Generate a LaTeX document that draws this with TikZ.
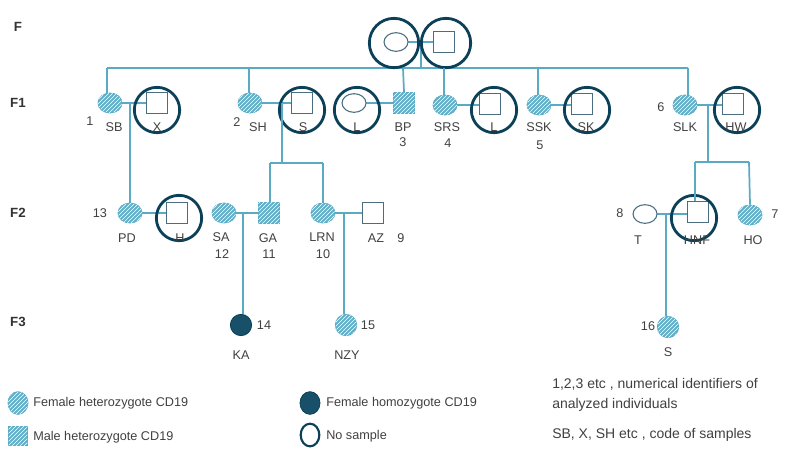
\documentclass[tikz,border=0pt]{standalone}
\usepackage{fontspec}
\setmainfont{Liberation Sans}
\usetikzlibrary{patterns,shapes.geometric}
\definecolor{ln}{HTML}{5AAAC4}
\definecolor{dk}{HTML}{0B4058}
\definecolor{hf}{HTML}{5FAFC8}
\definecolor{sq}{HTML}{4A6E80}
\begin{document}
\begin{tikzpicture}[x=0.75pt,y=-0.75pt,font=\fontsize{9.5}{11}\selectfont,
 lnk/.style={ln,line width=1.3pt},
 ring/.style={circle,draw=dk,line width=2.1pt,minimum size=34pt,inner sep=0pt},
 hetf/.style={ellipse,draw=ln,line width=0.6pt,fill=hf,postaction={pattern=north east lines,pattern color=white},minimum width=18pt,minimum height=15pt,inner sep=0pt},
 hetm/.style={rectangle,draw=ln,line width=0.6pt,fill=hf,postaction={pattern=north east lines,pattern color=white},minimum size=16pt,inner sep=0pt},
 homf/.style={ellipse,draw=dk,line width=0.6pt,fill=dk!85!ln,minimum width=16pt,minimum height=16pt,inner sep=0pt},
 openf/.style={ellipse,draw=sq,line width=0.8pt,fill=white,minimum width=18pt,minimum height=14pt,inner sep=0pt},
 openm/.style={rectangle,draw=sq,line width=0.8pt,fill=white,minimum size=16pt,inner sep=0pt},
 lab/.style={inner sep=0pt,text=black!75},
 leg/.style={lab,anchor=west,font=\fontsize{9.5}{11}\selectfont},
 legr/.style={lab,anchor=west,font=\fontsize{10.5}{12}\selectfont},
 gen/.style={inner sep=0pt,font=\fontsize{10}{11}\selectfont\bfseries,text=black!80}]
\useasboundingbox (0,0) rectangle (809,458);
% generation labels
\node[gen] (gF) at (18,27) {F};
\node[gen] (gF1) at (18,103) {F1};
\node[gen] (gF2) at (18,213) {F2};
\node[gen] (gF3) at (18,322) {F3};
% coordinates for lines
\coordinate (top) at (421,42);
\coordinate (sibL) at (107,68);
\coordinate (sibR) at (688,68);
\coordinate (sibM) at (421,68);
% F
\draw[lnk] (396,42) -- (444,42);
\draw[lnk] (top) -- (sibM);
\draw[lnk] (sibL) -- (sibR);
\node[openf] (Fm) at (396,42) {};
\node[openm] (Fp) at (444,42) {};
\node[ring,minimum size=37pt] (rFm) at (394,43) {};
\node[ring,minimum size=37pt] (rFp) at (446,43) {};
% F1 sibship drops
\coordinate (d1) at (107,68); \coordinate (d2) at (249,68); \coordinate (d3) at (403,68);
\coordinate (d4) at (444,68); \coordinate (d5) at (538,68); \coordinate (d6) at (688,68);
% marriages F1
\draw[lnk] (110,103) -- (157,103);
\draw[lnk] (250,103) -- (302,103);
\draw[lnk] (354,103) -- (404,103);
\draw[lnk] (445,105) -- (490,105);
\draw[lnk] (539,105) -- (582,105);
\draw[lnk] (685,105) -- (733,105);
% F1 nodes
\node[hetf] (SB) at (110,103) {};
\node[openm] (X) at (157,103) {};
\node[ring] (rX) at (157,110) {};
\node[hetf] (SH) at (250,103) {};
\node[openm] (S1) at (302,103) {};
\node[ring] (rS1) at (302,110) {};
\node[openf] (L1) at (354,103) {};
\node[ring] (rL1) at (357,110) {};
\node[hetm] (BP) at (404,103) {};
\node[hetf] (SRS) at (445,105) {};
\node[openm] (L2) at (490,104) {};
\node[ring] (rL2) at (494,110) {};
\node[hetf] (SSK) at (539,105) {};
\node[openm] (SK) at (582,104) {};
\node[ring] (rSK) at (587,110) {};
\node[hetf] (SLK) at (685,105) {};
\node[openm] (HW) at (733,104) {};
\node[ring] (rHW) at (737,110) {};
\draw[lnk] (d1) -- (SB.north -| d1);
\draw[lnk] (d2) -- (SH.north -| d2);
\draw[lnk] (d3) -- (BP.north);
\draw[lnk] (d4) -- (SRS.north -| d4);
\draw[lnk] (d5) -- (SSK.north -| d5);
\draw[lnk] (d6) -- (SLK.north -| d6);
% F1 labels
\node[lab] (n1) at (90,121) {1}; \node[lab] (tSB) at (114,127) {SB}; \node[lab] (tX) at (157,127) {X};
\node[lab] (n2) at (237,122) {2}; \node[lab] (tSH) at (258,127) {SH}; \node[lab] (tS) at (303,127) {S};
\node[lab] (tL) at (357,127) {L}; \node[lab] (tBP) at (403,127) {BP}; \node[lab] (n3) at (403,142) {3};
\node[lab] (tSRS) at (447,127) {SRS}; \node[lab] (n4) at (448,143) {4}; \node[lab] (tL2) at (494,127) {L};
\node[lab] (tSSK) at (539,127) {SSK}; \node[lab] (n5) at (540,145) {5}; \node[lab] (tSK) at (586,127) {SK};
\node[lab] (n6) at (661,107) {6}; \node[lab] (tSLK) at (685,127) {SLK}; \node[lab] (tHW) at (736,127) {HW};
% F2 child lines
\coordinate (c1) at (130,103);
\coordinate (c2) at (282,103); \coordinate (c2b) at (282,163);
\coordinate (c2l) at (270,163); \coordinate (c2r) at (323,163);
\coordinate (c6) at (708,105); \coordinate (c6b) at (708,162);
\coordinate (c6l) at (695,162); \coordinate (c6r) at (749,162);
\draw[lnk] (c2) -- (c2b); \draw[lnk] (c2l) -- (c2r);
\draw[lnk] (c6) -- (c6b); \draw[lnk] (c6l) -- (c6r);
% F2 marriages
\draw[lnk] (130,213) -- (177,213);
\draw[lnk] (224,213) -- (269,213);
\draw[lnk] (323,213) -- (373,213);
\draw[lnk] (645,214) -- (698,214);
% F2 nodes
\node[hetf] (PD) at (130,213) {};
\node[openm] (H) at (177,213) {};
\node[ring] (rH) at (179,218) {};
\node[hetf] (SA) at (224,213) {};
\node[hetm] (GA) at (269,213) {};
\node[hetf] (LRN) at (323,213) {};
\node[openm] (AZ) at (373,213) {};
\node[openf] (T) at (645,214) {};
\node[openm] (HNF) at (698,212) {};
\node[ring] (rHNF) at (694,218) {};
\node[hetf] (HO) at (750,215) {};
\draw[lnk] (c1) -- (PD.north -| c1);
\draw[lnk] (c2l) -- (GA.north -| c2l);
\draw[lnk] (c2r) -- (LRN.north);
\draw[lnk] (c6l) -- (HNF.north -| c6l);
\draw[lnk] (c6r) -- (HO.north);
% F2 labels
\node[lab] (n13) at (100,213) {13}; \node[lab] (tPD) at (127,238) {PD}; \node[lab] (tH) at (180,238) {H};
\node[lab] (tSA) at (221,237) {SA}; \node[lab] (n12) at (222,254) {12};
\node[lab] (tGA) at (268,238) {GA}; \node[lab] (n11) at (269,254) {11};
\node[lab] (tLRN) at (322,237) {LRN}; \node[lab] (n10) at (323,254) {10};
\node[lab] (tAZ) at (376,238) {AZ}; \node[lab] (n9) at (401,238) {9};
\node[lab] (n8) at (620,213) {8}; \node[lab] (tT) at (638,240) {T};
\node[lab] (tHNF) at (697,240) {HNF}; \node[lab] (tHO) at (753,240) {HO}; \node[lab] (n7) at (775,214) {7};
% F3
\coordinate (c7) at (243,213); \coordinate (c8) at (344,213); \coordinate (c9) at (666,214);
\node[homf] (KA) at (241,325) {};
\node[hetf,minimum width=16pt,minimum height=16pt] (NZY) at (346,325) {};
\node[hetf,minimum width=16pt,minimum height=16pt] (S3) at (668,327) {};
\draw[lnk] (c7) -- (KA.north -| c7);
\draw[lnk] (c8) -- (NZY.north -| c8);
\draw[lnk] (c9) -- (S3.north -| c9);
\node[lab] (n14) at (264,325) {14}; \node[lab] (tKA) at (241,355) {KA};
\node[lab] (n15) at (368,325) {15}; \node[lab] (tNZY) at (347,355) {NZY};
\node[lab] (n16) at (648,326) {16}; \node[lab] (tS3) at (668,352) {S};
% legend
\node[hetf,minimum width=15pt,minimum height=17pt] (lg1) at (18,403) {};
\node[leg] (lt1) at (33,403) {Female heterozygote CD19};
\node[hetm,minimum size=14pt] (lg2) at (18,436) {};
\node[leg] (lt2) at (33,437) {Male heterozygote CD19};
\node[homf,minimum width=15pt,minimum height=17pt] (lg3) at (310,403) {};
\node[leg] (lt3) at (326,403) {Female homozygote CD19};
\node[ellipse,draw=dk,line width=1.6pt,minimum width=14pt,minimum height=17pt,inner sep=0pt] (lg4) at (310,435) {};
\node[leg] (lt4) at (326,436) {No sample};
\node[legr] (lt5) at (552,384) {1,2,3 etc , numerical identifiers of};
\node[legr] (lt6) at (552,405) {analyzed individuals};
\node[legr] (lt7) at (552,435) {SB, X, SH etc , code of samples};
\end{tikzpicture}
\end{document}
